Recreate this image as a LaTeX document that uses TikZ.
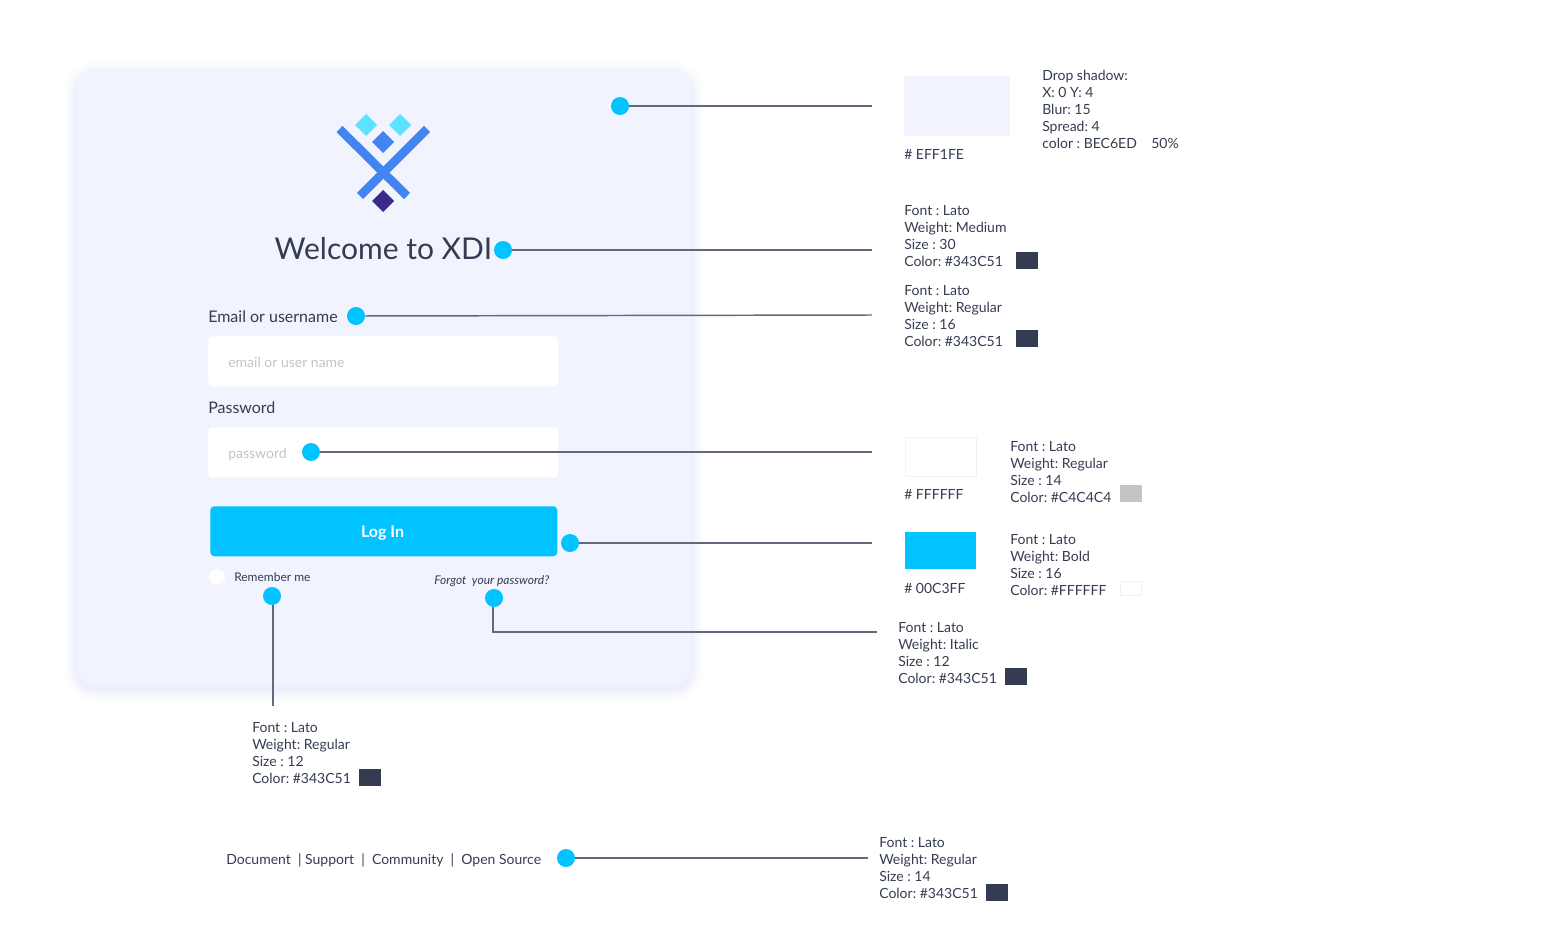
\documentclass[tikz,border=0pt]{standalone}
\usepackage{fontspec}
\setmainfont{Lato}
\frenchspacing
\definecolor{cardbg}{HTML}{F1F3FF}
\definecolor{shadowc}{HTML}{BEC6ED}
\definecolor{ink}{HTML}{343C51}
\definecolor{hint}{HTML}{C4C4C4}
\definecolor{accent}{HTML}{00C3FF}
\definecolor{linec}{HTML}{65687A}
\definecolor{frame}{HTML}{F1F2F9}
\definecolor{logoblue}{HTML}{4285F0}
\definecolor{logocyan}{HTML}{5CE1FF}
\definecolor{logodark}{HTML}{3B2A8C}
\tikzset{
    dot/.style={circle, fill=accent, minimum size=13.5pt, inner sep=0pt},
    callout/.style={linec, line width=1.1pt},
    note/.style={anchor=north west, inner sep=0pt, align=left, text=ink,
        font=\fontsize{10.5}{12.75}\selectfont},
    label/.style={inner sep=0pt, text=ink},
    field/.style={anchor=north west, fill=white, rounded corners=2.5pt, inner sep=0pt,
        minimum width=262.5pt, minimum height=37.5pt},
    swatch/.style={anchor=north west, inner sep=0pt, minimum width=16.5pt, minimum height=12.75pt},
}
\begin{document}
\begin{tikzpicture}[x=0.75pt, y=-0.75pt]
    \useasboundingbox (0,0) rectangle (1546,946);

    % card with its shadow
    \foreach \spread [evaluate=\spread as \shade using 0.0024*(17-\spread)] in {1,...,16}
        \fill[shadowc, opacity=\shade, rounded corners={(20+\spread)*0.75pt}]
            (77-\spread,74-\spread) rectangle (691+\spread,689+\spread);
    \fill[cardbg, rounded corners=15pt] (77,70) rectangle (691,685);

    % logo
    \begin{scope}[logoblue, line width=6.5pt]
        \draw (339.5,129) -- (407,196);
        \draw (427,129) -- (360,196);
    \end{scope}
    \fill[logocyan] (366,114) -- (377,125) -- (366,136) -- (355,125) -- cycle;
    \fill[logocyan] (400,114) -- (411,125) -- (400,136) -- (389,125) -- cycle;
    \fill[logoblue] (383,131) -- (394,142) -- (383,153) -- (372,142) -- cycle;
    \fill[logodark] (383,190) -- (394,201) -- (383,212) -- (372,201) -- cycle;

    % form
    \node[label, font=\fontsize{22.5}{27}\selectfont] (title) at (383.5,249) {Welcome to XDI};
    \node[label, anchor=west, font=\fontsize{12}{14}\selectfont] (emaillabel) at (208,317) {Email or username};
    \node[field] (emailfield) at (208,336) {};
    \node[label, anchor=west, text=hint, font=\fontsize{10.5}{12}\selectfont] (emailhint) at (228,362) {email or user name};
    \node[label, anchor=west, font=\fontsize{12}{14}\selectfont] (passlabel) at (208,408) {Password};
    \node[field] (passfield) at (208,427) {};
    \node[label, anchor=west, text=hint, font=\fontsize{10.5}{12}\selectfont] (passhint) at (228,455) {password};
    \node[anchor=north west, fill=accent, rounded corners=3pt, inner sep=0pt, minimum width=260.25pt,
        minimum height=37.5pt] (login) at (210,506) {};
    \node[label, anchor=base, text=white, font=\fontsize{12}{14}\selectfont\bfseries] (logintext) at (382.5,537) {Log In};
    \node[circle, fill=white, minimum size=12pt, inner sep=0pt] (radio) at (217,577) {};
    \node[label, anchor=west, font=\fontsize{9}{11}\selectfont] (remember) at (234,577) {Remember me};
    \node[label, anchor=west, font=\fontsize{9}{11}\selectfont\itshape] (forgot) at (434,581) {Forgot\ \ your password?};

    % footer
    \node[label, anchor=west, font=\fontsize{10.5}{12}\selectfont] (footer) at (226,860)
        {Document\ \ | Support\ \ |\ \ Community\ \ |\ \ Open Source};

    % dots
    \foreach \name/\x/\y in {dotcard/620/106, dottitle/503/250, dotemail/356/316, dotpass/311/452,
        dotlogin/570/543, dotremember/272/596, dotforgot/494/598, dotfooter/566/858}
        \node[dot] (\name) at (\x,\y) {};

    % free ends of the lines
    \coordinate (endcard) at (872,106);
    \coordinate (endtitle) at (872,250);
    \coordinate (endemail) at (872,315);
    \coordinate (endpass) at (872,452);
    \coordinate (endlogin) at (872,543);
    \coordinate (endforgot) at (877,632);
    \coordinate (endremember) at (273,706);
    \coordinate (endfooter) at (868,858);

    \draw[callout] (dotcard) -- (endcard);
    \draw[callout] (dottitle) -- (endtitle);
    \draw[callout] (dotemail) -- (endemail);
    \draw[callout] (dotpass) -- (endpass);
    \draw[callout] (dotlogin) -- (endlogin);
    \draw[callout] (dotforgot.south) ++(-1,0) |- (endforgot);
    \draw[callout] (dotremember.south) ++(1,0) -- (endremember);
    \draw[callout] (dotfooter) -- (endfooter);

    % right side notes
    \node[anchor=north west, fill=cardbg, inner sep=0pt, minimum width=79.5pt, minimum height=45pt] (swcard) at (904,76) {};
    \node[label, anchor=west, font=\fontsize{10.5}{12}\selectfont] (hexcard) at (904,154) {\# EFF1FE};
    \node[note] (notecard) at (1042,70) {Drop shadow:\\X: 0 Y: 4\\Blur: 15\\Spread: 4\\color : BEC6ED\ \ \ \ 50\%};

    \node[note] (notetitle) at (904,205) {Font : Lato\\Weight: Medium\\Size : 30\\Color: \#343C51};
    \node[swatch, fill=ink] (swtitle) at (1016,252) {};

    \node[note] (noteemail) at (904,285) {Font : Lato\\Weight: Regular\\Size : 16\\Color: \#343C51};
    \node[swatch, fill=ink] (swemail) at (1016,330) {};

    \node[anchor=north west, fill=white, draw=frame, inner sep=0pt, minimum width=53.5pt, minimum height=29pt] (swwhite) at (905,437) {};
    \node[label, anchor=west, font=\fontsize{10.5}{12}\selectfont] (hexwhite) at (904,494) {\# FFFFFF};
    \node[note] (notehint) at (1010,441) {Font : Lato\\Weight: Regular\\Size : 14\\Color: \#C4C4C4};
    \node[swatch, fill=hint] (swhint) at (1120,485) {};

    \node[anchor=north west, fill=accent, inner sep=0pt, minimum width=53.25pt, minimum height=27.75pt] (swaccent) at (905,532) {};
    \node[label, anchor=west, font=\fontsize{10.5}{12}\selectfont] (hexaccent) at (904,588) {\# 00C3FF};
    \node[note] (notelogin) at (1010,534) {Font : Lato\\Weight: Bold\\Size : 16\\Color: \#FFFFFF};
    \node[swatch, fill=white, draw=frame, minimum width=15.75pt, minimum height=10.5pt] (swlogin) at (1120,581) {};

    \node[note] (noteforgot) at (898,622) {Font : Lato\\Weight: Italic\\Size : 12\\Color: \#343C51};
    \node[swatch, fill=ink] (swforgot) at (1005,668) {};

    \node[note] (noteremember) at (252,722) {Font : Lato\\Weight: Regular\\Size : 12\\Color: \#343C51};
    \node[swatch, fill=ink] (swremember) at (359,769) {};

    \node[note] (notefooter) at (879,837) {Font : Lato\\Weight: Regular\\Size : 14\\Color: \#343C51};
    \node[swatch, fill=ink] (swfooter) at (986,884) {};
\end{tikzpicture}
\end{document}
